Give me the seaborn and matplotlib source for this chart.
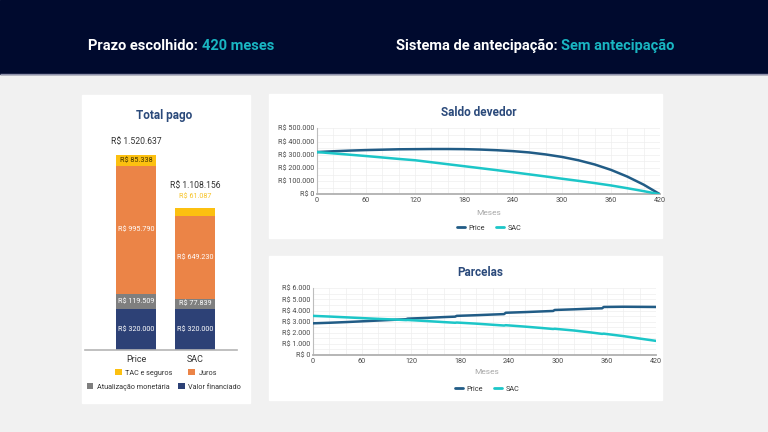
import numpy as np
import pandas as pd
import matplotlib
matplotlib.use("Agg")
import matplotlib.pyplot as plt
import seaborn as sns
from matplotlib.patches import Rectangle
from matplotlib.lines import Line2D
from matplotlib.ticker import MultipleLocator, FuncFormatter

# ---------------- data ----------------
systems = ["Price", "SAC"]
valor_financiado = [320000, 320000]
atualizacao = [119509, 77839]
juros = [995790, 649230]
tac_seguros = [85338, 61087]

saldo_months = [0, 20, 40, 60, 80, 100, 120, 140, 160, 180, 200, 220, 240,
                260, 280, 300, 320, 340, 360, 380, 400, 420]
saldo_price = [320000, 326000, 331000, 335000, 338000, 341000, 342000, 343000,
               343000, 342000, 339000, 334000, 327000, 317000, 302000, 283000,
               258000, 226000, 185000, 134000, 73000, 0]
saldo_sac = [320000, 310000, 300000, 290000, 279000, 268000, 258000, 243000,
             228000, 213000, 198000, 183000, 167000, 151000, 135000, 118000,
             102000, 85000, 67000, 46000, 24000, 0]

parc_months = [0, 20, 40, 60, 80, 100, 114, 116, 140, 160, 174, 176, 200, 220,
               234, 236, 260, 280, 294, 296, 320, 340, 354, 356, 380, 400, 420]
parc_price = [2850, 2900, 2960, 3030, 3100, 3170, 3220, 3270, 3340, 3410, 3450,
              3520, 3580, 3640, 3680, 3800, 3860, 3920, 3960, 4050, 4110, 4170,
              4200, 4320, 4340, 4330, 4320]
parc_sac = [3520, 3460, 3390, 3320, 3250, 3190, 3140, 3150, 3050, 2960, 2900,
            2920, 2820, 2720, 2650, 2680, 2550, 2430, 2340, 2360, 2200, 2030,
            1900, 1920, 1700, 1480, 1270]

header_left = ("Prazo escolhido: ", "420 meses")
header_right = ("Sistema de antecipação: ", "Sem antecipação")

# ---------------- style ----------------
sns.set_theme(style="white")
plt.rcParams["font.family"] = ["Roboto", "DejaVu Sans"]

C_NAVY = "#2d4176"
C_GRAY = "#7f7f7f"
C_ORANGE = "#eb8447"
C_YELLOW = "#fcc010"
C_PRICE = "#215c86"
C_SAC = "#1cc6c8"
C_TITLE = "#2b4a7b"
C_TICK = "#4a4a4a"

W, H = 768, 432
fig = plt.figure(figsize=(W / 100, H / 100), dpi=100)
fig.patch.set_facecolor("#f1f1f1")


def fr(x0, y0, x1, y1):
    """pixel box (top-left origin) -> figure rect"""
    return [x0 / W, 1 - y1 / H, (x1 - x0) / W, (y1 - y0) / H]


# background axes for header and panels
bg = fig.add_axes([0, 0, 1, 1])
bg.set_xlim(0, W)
bg.set_ylim(H, 0)
bg.axis("off")
bg.add_patch(Rectangle((0, 0), W, 74, color="#000a2e", zorder=0))
bg.add_patch(Rectangle((0, 73.5), W, 0.8, color="#8f92ab", zorder=0))
bg.add_patch(Rectangle((82, 95), 168, 308, color="white", zorder=0))
bg.add_patch(Rectangle((269, 94), 393, 144, color="white", zorder=0))
bg.add_patch(Rectangle((269, 256), 393, 144, color="white", zorder=0))

# header texts
for (a, b), x in [(header_left, 88), (header_right, 396)]:
    t1 = bg.text(x, 46, a, color="white", fontsize=10.5, fontweight="bold",
                 va="center", ha="left")
    bg.annotate(b, xy=(1, 0.5), xycoords=t1, va="center", ha="left",
                color="#19b6c2", fontsize=10.5, fontweight="bold")

# ---------------- bar chart ----------------
axb = fig.add_axes(fr(85, 130, 237, 350))
axb.set_facecolor("none")
layers = [
    ("TAC e seguros", tac_seguros, C_YELLOW),
    ("Juros", juros, C_ORANGE),
    ("Atualização monetária", atualizacao, C_GRAY),
    ("Valor financiado", valor_financiado, C_NAVY),
]
stack = np.array([valor_financiado, atualizacao, juros, tac_seguros], dtype=float)
cum = np.cumsum(stack, axis=0)  # rows: navy top, gray top, orange top, total
tops = [cum[3], cum[2], cum[1], cum[0]]
for (name, vals, col), top in zip(layers, tops):
    df = pd.DataFrame({"sistema": systems, "v": top})
    sns.barplot(data=df, x="sistema", y="v", color=col, width=0.67,
                saturation=1, ax=axb, edgecolor="none")
axb.set_xlim(-0.857, 1.70)
axb.set_ylim(0, 1.72e6)
axb.set_xlabel("")
axb.set_ylabel("")
axb.set_yticks([])
for s in ["top", "right", "left"]:
    axb.spines[s].set_visible(False)
axb.spines["bottom"].set_color("#b5b5b5")
axb.spines["bottom"].set_linewidth(1.2)
axb.tick_params(axis="x", length=0, labelsize=6.5, colors="#333333", pad=3.5)


def brl(v):
    return "R$ " + f"{v:,.0f}".replace(",", ".")


lows = [np.zeros(2), cum[0], cum[1], cum[2]]
segs = [valor_financiado, atualizacao, juros, tac_seguros]
for k, (low, seg) in enumerate(zip(lows, segs)):
    for i in range(2):
        if k == 3 and i == 1:
            continue
        col = "white" if k < 3 else "#3d3000"
        axb.text(i, low[i] + seg[i] / 2, brl(seg[i]), ha="center", va="center",
                 color=col, fontsize=5.2)
# labels above bars
totals = cum[3]
axb.annotate(brl(totals[0]), xy=(0, totals[0]), xytext=(0, 10),
             textcoords="offset points", ha="center", va="center",
             fontsize=6.2, color="#333333")
axb.annotate(brl(tac_seguros[1]), xy=(1, totals[1]), xytext=(0, 8),
             textcoords="offset points", ha="center", va="center",
             fontsize=5.2, color="#f7c325")
axb.annotate(brl(totals[1]), xy=(1, totals[1]), xytext=(0, 16),
             textcoords="offset points", ha="center", va="center",
             fontsize=6.2, color="#333333")
bg.text(164, 115, "Total pago", ha="center", va="center", fontsize=8.5,
        fontweight="bold", color=C_TITLE)

# legends for bar chart
def sq(c):
    return Rectangle((0, 0), 1, 1, facecolor=c, edgecolor="none")

fig.legend([sq(C_YELLOW), sq(C_ORANGE)], ["TAC e seguros", "Juros"],
           ncol=2, loc="center", bbox_to_anchor=(166 / W, 1 - 373 / H),
           frameon=False, fontsize=5.2, handlelength=0.9, handleheight=0.9,
           handletextpad=0.5, columnspacing=2.2, labelcolor="#333333")
fig.legend([sq(C_GRAY), sq(C_NAVY)],
           ["Atualização monetária", "Valor financiado"],
           ncol=2, loc="center", bbox_to_anchor=(164 / W, 1 - 387 / H),
           frameon=False, fontsize=5.2, handlelength=0.9, handleheight=0.9,
           handletextpad=0.5, columnspacing=1.2, labelcolor="#333333")

# ---------------- line charts ----------------
def line_chart(rect, months, price, sac, ymax, ystep, title, title_y, title_x,
               meses_y, leg_y, cx):
    ax = fig.add_axes(rect)
    df = pd.DataFrame({
        "mes": list(months) * 2,
        "valor": list(price) + list(sac),
        "serie": ["Price"] * len(months) + ["SAC"] * len(months),
    })
    sns.lineplot(data=df, x="mes", y="valor", hue="serie",
                 palette={"Price": C_PRICE, "SAC": C_SAC}, linewidth=1.8,
                 legend=False, ax=ax, zorder=3)
    ax.set_xlim(0, 420)
    ax.set_ylim(0, ymax)
    ax.xaxis.set_major_locator(MultipleLocator(60))
    ax.xaxis.set_minor_locator(MultipleLocator(20))
    ax.yaxis.set_major_locator(MultipleLocator(ystep))
    ax.yaxis.set_minor_locator(MultipleLocator(ystep / 2))
    ax.yaxis.set_major_formatter(FuncFormatter(lambda v, p: brl(v)))
    ax.grid(True, which="both", color="#eeeeee", linewidth=0.5, zorder=0)
    ax.set_axisbelow(True)
    ax.tick_params(which="both", length=0, labelsize=5.2, colors=C_TICK, pad=2)
    ax.set_xlabel("")
    ax.set_ylabel("")
    for s in ["top", "right"]:
        ax.spines[s].set_visible(False)
    ax.spines["left"].set_color("#bdbdbd")
    ax.spines["left"].set_linewidth(0.8)
    ax.spines["bottom"].set_color("#b0b0b0")
    ax.spines["bottom"].set_linewidth(1.3)
    ax.set_facecolor("none")
    bg.text(title_x, title_y, title, ha="center", va="center", fontsize=8.5,
            fontweight="bold", color=C_TITLE)
    bg.text(cx, meses_y, "Meses", ha="center", va="center", fontsize=6,
            color="#a8a8a8")
    fig.legend([Line2D([0], [0], color=C_PRICE, lw=2),
                Line2D([0], [0], color=C_SAC, lw=2)], ["Price", "SAC"],
               ncol=2, loc="center", bbox_to_anchor=(cx / W, 1 - leg_y / H),
               frameon=False, fontsize=5.2, handlelength=1.1,
               handletextpad=0.5, columnspacing=1.5, labelcolor="#333333")
    return ax

line_chart(fr(317, 128.3, 660, 194.3), saldo_months, saldo_price, saldo_sac,
           500000, 100000, "Saldo devedor", 113, 479, 213, 228, 489)
line_chart(fr(313, 288.3, 656, 355), parc_months, parc_price, parc_sac,
           6000, 1000, "Parcelas", 273, 480, 372, 389, 487)

fig.savefig("out.png", dpi=100, facecolor=fig.get_facecolor())
